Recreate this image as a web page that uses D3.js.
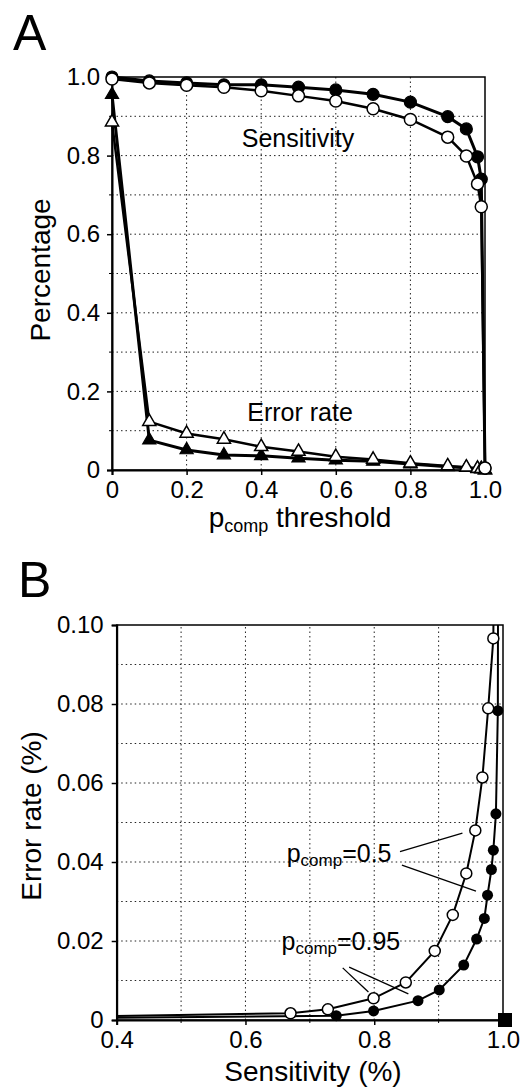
<!DOCTYPE html>
<html><head><meta charset="utf-8">
<script src="https://cdn.jsdelivr.net/npm/d3@7"></script>
<style>
body{margin:0;background:#fff;}
svg{display:block;font-family:"Liberation Sans",Arial,sans-serif;}
</style></head><body>
<svg id="c" width="525" height="1089"></svg>
<script>
// ---------- Panel A data ----------
const thresholds   = [0,0.1,0.2,0.3,0.4,0.5,0.6,0.7,0.8,0.9,0.95,0.98,0.99,1.0];
const sensFilledA  = [1.0,0.99,0.985,0.98,0.98,0.974,0.967,0.956,0.936,0.899,0.868,0.797,0.74,0.005];
const sensOpenA    = [0.995,0.985,0.979,0.974,0.965,0.952,0.939,0.919,0.892,0.847,0.799,0.728,0.67,0.005];
const errFilledA   = [0.955,0.076,0.051,0.038,0.036,0.030,0.025,0.022,0.015,0.008,0.006,0.003,0.002,0];
const errOpenA     = [0.885,0.123,0.093,0.078,0.059,0.047,0.034,0.027,0.017,0.010,0.007,0.004,0.003,0];
const xTicksA = [0,0.2,0.4,0.6,0.8,1.0];
const xTickLabelsA = ["0","0.2","0.4","0.6","0.8","1.0"];
const yTicksA = [0,0.2,0.4,0.6,0.8,1.0];
const yTickLabelsA = ["0","0.2","0.4","0.6","0.8","1.0"];

// ---------- Panel B data ----------
const sensOpenB  = [0.005,0.67,0.728,0.799,0.849,0.894,0.922,0.943,0.957,0.968,0.977,0.985,0.986,0.995];
const errOpenB   = [0,0.0017,0.0027,0.0055,0.0095,0.0175,0.0266,0.0371,0.048,0.0614,0.0789,0.0966,0.123,0.885];
const markOpenB  = [false,true,true,true,true,true,true,true,true,true,true,true,false,false];
const sensFilledB = [0.005,0.741,0.799,0.868,0.901,0.939,0.959,0.971,0.976,0.982,0.985,0.989,0.992,1.0];
const errFilledB  = [0,0.0011,0.0023,0.0049,0.0076,0.0139,0.0205,0.0257,0.0316,0.0381,0.043,0.0522,0.0783,0.955];
const markFilledB = [false,true,true,true,true,true,true,true,true,true,true,true,true,false];
const idealPoint = {sens:1.0, err:0};
const xTicksB = [0.4,0.6,0.8,1.0];
const xTickLabelsB = ["0.4","0.6","0.8","1.0"];
const yTicksB = [0,0.02,0.04,0.06,0.08,0.10];
const yTickLabelsB = ["0","0.02","0.04","0.06","0.08","0.10"];
const annotLabels = [{text:"=0.5", sens:0.664, err:0.040},{text:"=0.95", sens:0.656, err:0.0177}];
const leaderLines = [
  [[0.840,0.0426],[0.937,0.0473]],
  [[0.843,0.0392],[0.958,0.0326]],
  [[0.751,0.0132],[0.791,0.0071]],
  [[0.761,0.0134],[0.853,0.0066]]
];

const svg = d3.select("#c");
const FONT = 24;
const TITLE = 28;

function dotted(g, lines){
  g.selectAll(null).data(lines).enter().append("line")
   .attr("x1",d=>d[0]).attr("y1",d=>d[1]).attr("x2",d=>d[2]).attr("y2",d=>d[3])
   .attr("stroke","#222").attr("stroke-width",1).attr("stroke-dasharray","1.5,3");
}

// ================= Panel A =================
{
  const x = d3.scaleLinear().domain([0,1]).range([112,485]);
  const y = d3.scaleLinear().domain([0,1]).range([470,77]);
  const g = svg.append("g");
  const hg = d3.range(1,10).map(i=>i/10);
  dotted(g, hg.map(v=>[x(0),y(v),x(1),y(v)]));
  dotted(g, [0.2,0.4,0.6,0.8].map(v=>[x(v),y(0),x(v),y(1)]));
  g.append("rect").attr("x",x(0)).attr("y",y(1)).attr("width",x(1)-x(0)).attr("height",y(0)-y(1))
   .attr("fill","none").attr("stroke","#000").attr("stroke-width",1.5);
  const ya = d3.axisLeft(y).tickValues(yTicksA).tickSize(5).tickPadding(7)
      .tickFormat((d,i)=>yTickLabelsA[i]);
  const ga = g.append("g").attr("transform",`translate(${x(0)},0)`).call(ya);
  const xa = d3.axisBottom(x).tickValues(xTicksA).tickSize(5).tickPadding(6)
      .tickFormat((d,i)=>xTickLabelsA[i]);
  const gb = g.append("g").attr("transform",`translate(0,${y(0)})`).call(xa);
  [ga,gb].forEach(a=>{
    a.select(".domain").attr("stroke-width",2);
    a.selectAll(".tick line").attr("stroke-width",1.5);
    a.selectAll("text").attr("font-size",FONT).attr("fill","#000").attr("font-family","Liberation Sans, Arial, sans-serif");
  });
  g.selectAll(null).data(hg.filter((v,i)=>i%2===0)).enter().append("line")
   .attr("x1",x(0)-3).attr("x2",x(0)).attr("y1",d=>y(d)).attr("y2",d=>y(d)).attr("stroke","#000");

  const line = d3.line().x(d=>x(d[0])).y(d=>y(d[1]));
  const pts = arr => thresholds.map((t,i)=>[t,arr[i]]);
  g.append("path").attr("d",line(pts(errFilledA))).attr("fill","none").attr("stroke","#000").attr("stroke-width",3);
  g.append("path").attr("d",line(pts(errOpenA))).attr("fill","none").attr("stroke","#000").attr("stroke-width",2.5);
  g.append("path").attr("d",line(pts(sensOpenA))).attr("fill","none").attr("stroke","#000").attr("stroke-width",2.5);
  g.append("path").attr("d",line(pts(sensFilledA))).attr("fill","none").attr("stroke","#000").attr("stroke-width",3);
  const tri = d3.symbol().type(d3.symbolTriangle).size(75);
  g.selectAll(null).data(pts(errFilledA)).enter().append("path")
   .attr("d",tri).attr("transform",d=>`translate(${x(d[0])},${y(d[1])})`)
   .attr("fill","#000").attr("stroke","#000").attr("stroke-width",1.2);
  g.selectAll(null).data(pts(errOpenA)).enter().append("path")
   .attr("d",tri).attr("transform",d=>`translate(${x(d[0])},${y(d[1])})`)
   .attr("fill","#fff").attr("stroke","#000").attr("stroke-width",1.5);
  g.selectAll(null).data(pts(sensFilledA)).enter().append("circle")
   .attr("cx",d=>x(d[0])).attr("cy",d=>y(d[1])).attr("r",6)
   .attr("fill","#000").attr("stroke","#000").attr("stroke-width",1.2);
  g.selectAll(null).data(pts(sensOpenA)).enter().append("circle")
   .attr("cx",d=>x(d[0])).attr("cy",d=>y(d[1])).attr("r",6)
   .attr("fill","#fff").attr("stroke","#000").attr("stroke-width",1.5);

  g.append("text").attr("x",298).attr("y",147).attr("text-anchor","middle").attr("font-size",25).text("Sensitivity");
  g.append("text").attr("x",300).attr("y",421).attr("text-anchor","middle").attr("font-size",25).text("Error rate");
  g.append("text").attr("x",13).attr("y",50).attr("font-size",50).text("A");
  g.append("text").attr("transform","translate(50,270) rotate(-90)").attr("text-anchor","middle").attr("font-size",TITLE).text("Percentage");
  const t = g.append("text").attr("x",300).attr("y",527).attr("text-anchor","middle").attr("font-size",TITLE);
  t.append("tspan").text("p");
  t.append("tspan").attr("font-size",18).attr("baseline-shift","-25%").text("comp");
  t.append("tspan").text(" threshold");
}

// ================= Panel B =================
{
  const x = d3.scaleLinear().domain([0.4,1.0]).range([116.7,503]);
  const y = d3.scaleLinear().domain([0,0.1]).range([1020,625]);
  const g = svg.append("g");
  svg.append("defs").append("clipPath").attr("id","clipB").append("rect")
    .attr("x",x(0.4)).attr("y",y(0.1)).attr("width",x(1)-x(0.4)).attr("height",y(0)-y(0.1));
  dotted(g, d3.range(1,10).map(i=>i/100).map(v=>[x(0.4),y(v),x(1),y(v)]));
  dotted(g, [0.5,0.6,0.7,0.8,0.9].map(v=>[x(v),y(0),x(v),y(0.1)]));
  g.append("rect").attr("x",x(0.4)).attr("y",y(0.1)).attr("width",x(1)-x(0.4)).attr("height",y(0)-y(0.1))
   .attr("fill","none").attr("stroke","#000").attr("stroke-width",1.5);
  const ya = d3.axisLeft(y).tickValues(yTicksB).tickSize(5).tickPadding(8)
      .tickFormat((d,i)=>yTickLabelsB[i]);
  const ga = g.append("g").attr("transform",`translate(${x(0.4)},0)`).call(ya);
  const xa = d3.axisBottom(x).tickValues(xTicksB).tickSize(5).tickPadding(6)
      .tickFormat((d,i)=>xTickLabelsB[i]);
  const gb = g.append("g").attr("transform",`translate(0,${y(0)})`).call(xa);
  [ga,gb].forEach(a=>{
    a.select(".domain").attr("stroke-width",2);
    a.selectAll(".tick line").attr("stroke-width",1.5);
    a.selectAll("text").attr("font-size",FONT).attr("fill","#000").attr("font-family","Liberation Sans, Arial, sans-serif");
  });
  g.selectAll(null).data([0.5,0.7,0.9]).enter().append("line")
   .attr("x1",d=>x(d)).attr("x2",d=>x(d)).attr("y1",y(0)).attr("y2",y(0)+3).attr("stroke","#000");

  const line = d3.line().x(d=>x(d[0])).y(d=>y(d[1]));
  const open = sensOpenB.map((s,i)=>[s,errOpenB[i],markOpenB[i]]);
  const filled = sensFilledB.map((s,i)=>[s,errFilledB[i],markFilledB[i]]);
  const lg = g.append("g").attr("clip-path","url(#clipB)");
  lg.append("path").attr("d",line(open)).attr("fill","none").attr("stroke","#000").attr("stroke-width",2);
  lg.append("path").attr("d",line(filled)).attr("fill","none").attr("stroke","#000").attr("stroke-width",2);

  g.selectAll(null).data(leaderLines).enter().append("line")
   .attr("x1",d=>x(d[0][0])).attr("y1",d=>y(d[0][1])).attr("x2",d=>x(d[1][0])).attr("y2",d=>y(d[1][1]))
   .attr("stroke","#000").attr("stroke-width",1.3);

  g.selectAll(null).data(filled.filter(d=>d[2])).enter().append("circle")
   .attr("cx",d=>x(d[0])).attr("cy",d=>y(d[1])).attr("r",5.5).attr("fill","#000");
  g.selectAll(null).data(open.filter(d=>d[2])).enter().append("circle")
   .attr("cx",d=>x(d[0])).attr("cy",d=>y(d[1])).attr("r",5.5).attr("fill","#fff").attr("stroke","#000").attr("stroke-width",1.5);
  g.append("rect").attr("x",x(idealPoint.sens)-5).attr("y",y(idealPoint.err)-7).attr("width",14).attr("height",14).attr("fill","#000");

  annotLabels.forEach(a=>{
    const t = g.append("text").attr("x",x(a.sens)).attr("y",y(a.err)).attr("font-size",25);
    t.append("tspan").text("p");
    t.append("tspan").attr("font-size",17).attr("baseline-shift","-25%").text("comp");
    t.append("tspan").attr("baseline-shift","0%").text(a.text);
  });

  g.append("text").attr("x",18).attr("y",597).attr("font-size",50).text("B");
  g.append("text").attr("transform","translate(41,816) rotate(-90)").attr("text-anchor","middle").attr("font-size",TITLE).text("Error rate (%)");
  g.append("text").attr("x",313).attr("y",1081).attr("text-anchor","middle").attr("font-size",TITLE).text("Sensitivity (%)");
}
</script>
</body></html>
